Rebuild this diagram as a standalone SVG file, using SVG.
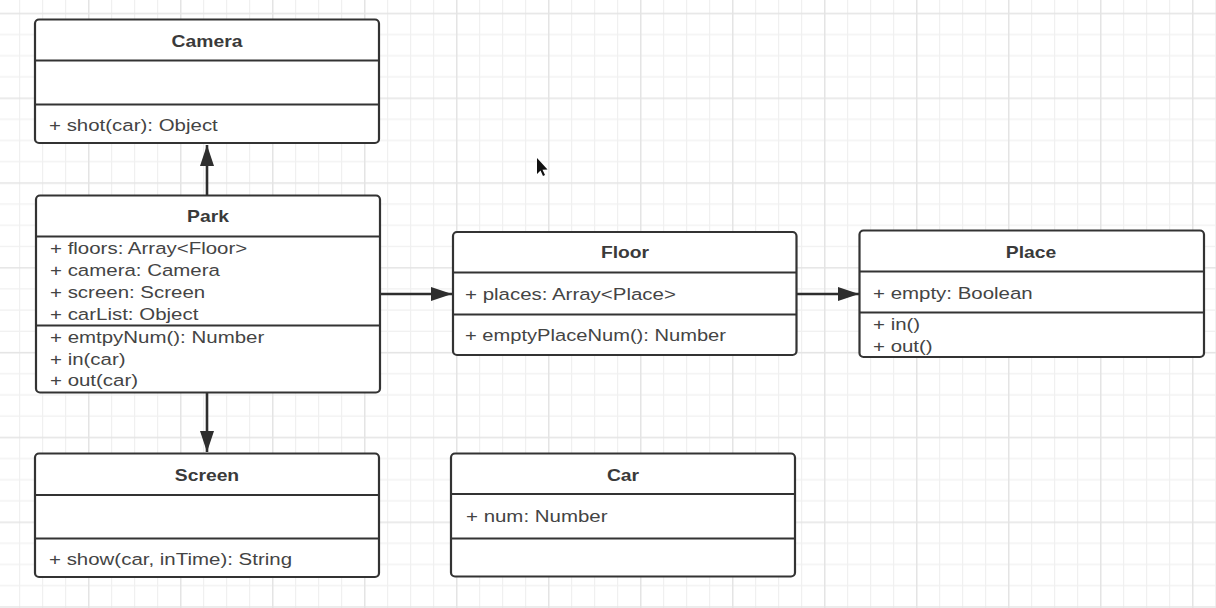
<svg xmlns="http://www.w3.org/2000/svg" width="1216" height="608" viewBox="0 0 1216 608">
  <defs>
    <pattern id="grid" patternUnits="userSpaceOnUse" x="-4" y="12.7" width="92" height="84.8">
      <rect x="0" y="0" width="92" height="84.8" fill="#ffffff"/>
      <g fill="#f0f0f0">
        <rect x="23" y="0" width="1.2" height="84.8"/>
        <rect x="46" y="0" width="1.2" height="84.8"/>
        <rect x="69" y="0" width="1.2" height="84.8"/>
        <rect x="0" y="21.2" width="92" height="1.2"/>
        <rect x="0" y="42.4" width="92" height="1.2"/>
        <rect x="0" y="63.6" width="92" height="1.2"/>
      </g>
      <g fill="#e4e4e4">
        <rect x="0" y="0" width="1.5" height="84.8"/>
        <rect x="0" y="0" width="92" height="1.5"/>
      </g>
    </pattern>
    <marker id="arrow" markerUnits="userSpaceOnUse" markerWidth="22" markerHeight="16" refX="21" refY="7.5" orient="auto">
      <path d="M0,0.5 L21,7.5 L0,14.5 Z" fill="#2e2e2e"/>
    </marker>
    <style>
      .box { fill:#ffffff; stroke:#333333; stroke-width:2.2; }
      .sep { stroke:#333333; stroke-width:2.2; fill:none; }
      .edge { stroke:#2e2e2e; stroke-width:2.6; fill:none; }
      .t { font-family:"Liberation Sans", Arial, sans-serif; font-size:16.5px; font-weight:bold; fill:#3a3a3a; text-anchor:middle; }
      .m { font-family:"Liberation Sans", Arial, sans-serif; font-size:16.5px; fill:#444444; }
    </style>
  </defs>

  <rect x="0" y="0" width="1216" height="608" fill="url(#grid)"/>

  <g id="connectors">
    <line class="edge" x1="207" y1="195" x2="207" y2="145" marker-end="url(#arrow)"/>
    <line class="edge" x1="207" y1="393" x2="207" y2="452" marker-end="url(#arrow)"/>
    <line class="edge" x1="380" y1="294" x2="452" y2="294" marker-end="url(#arrow)"/>
    <line class="edge" x1="797" y1="294" x2="859" y2="294" marker-end="url(#arrow)"/>
  </g>

  <g id="camera">
    <rect class="box" x="35" y="19.5" width="344" height="123.5" rx="4"/>
    <line class="sep" x1="35" y1="60.5" x2="379" y2="60.5"/>
    <line class="sep" x1="35" y1="104.5" x2="379" y2="104.5"/>
    <text class="t" transform="translate(207 47) scale(1.17 1)">Camera</text>
    <text class="m" transform="translate(49 131) scale(1.24 1)">+ shot(car): Object</text>
  </g>

  <g id="park">
    <rect class="box" x="36" y="195.5" width="344" height="197" rx="4"/>
    <line class="sep" x1="36" y1="236.5" x2="380" y2="236.5"/>
    <line class="sep" x1="36" y1="325.5" x2="380" y2="325.5"/>
    <text class="t" transform="translate(208 222) scale(1.17 1)">Park</text>
    <text class="m" transform="translate(50 254) scale(1.24 1)">+ floors: Array&lt;Floor&gt;</text>
    <text class="m" transform="translate(50 276) scale(1.24 1)">+ camera: Camera</text>
    <text class="m" transform="translate(50 298) scale(1.24 1)">+ screen: Screen</text>
    <text class="m" transform="translate(50 319.5) scale(1.24 1)">+ carList: Object</text>
    <text class="m" transform="translate(50 343) scale(1.24 1)">+ emtpyNum(): Number</text>
    <text class="m" transform="translate(50 364.5) scale(1.24 1)">+ in(car)</text>
    <text class="m" transform="translate(50 386) scale(1.24 1)">+ out(car)</text>
  </g>

  <g id="screen">
    <rect class="box" x="35" y="453.5" width="344" height="123.5" rx="4"/>
    <line class="sep" x1="35" y1="495" x2="379" y2="495"/>
    <line class="sep" x1="35" y1="538.5" x2="379" y2="538.5"/>
    <text class="t" transform="translate(207 481) scale(1.17 1)">Screen</text>
    <text class="m" transform="translate(49 565) scale(1.24 1)">+ show(car, inTime): String</text>
  </g>

  <g id="floor">
    <rect class="box" x="453" y="232" width="343.5" height="123" rx="4"/>
    <line class="sep" x1="453" y1="272.5" x2="796.5" y2="272.5"/>
    <line class="sep" x1="453" y1="314.5" x2="796.5" y2="314.5"/>
    <text class="t" transform="translate(625 258) scale(1.17 1)">Floor</text>
    <text class="m" transform="translate(465 300) scale(1.24 1)">+ places: Array&lt;Place&gt;</text>
    <text class="m" transform="translate(465 340.5) scale(1.22 1)">+ emptyPlaceNum(): Number</text>
  </g>

  <g id="place">
    <rect class="box" x="859.5" y="230.5" width="344.5" height="126.5" rx="4"/>
    <line class="sep" x1="859.5" y1="271.5" x2="1204" y2="271.5"/>
    <line class="sep" x1="859.5" y1="312.5" x2="1204" y2="312.5"/>
    <text class="t" transform="translate(1031 257.5) scale(1.17 1)">Place</text>
    <text class="m" transform="translate(873 298.5) scale(1.24 1)">+ empty: Boolean</text>
    <text class="m" transform="translate(873 329.5) scale(1.24 1)">+ in()</text>
    <text class="m" transform="translate(873 351.5) scale(1.24 1)">+ out()</text>
  </g>

  <g id="car">
    <rect class="box" x="451" y="453.5" width="344" height="123" rx="4"/>
    <line class="sep" x1="451" y1="494" x2="795" y2="494"/>
    <line class="sep" x1="451" y1="538.5" x2="795" y2="538.5"/>
    <text class="t" transform="translate(623 481) scale(1.17 1)">Car</text>
    <text class="m" transform="translate(466 522) scale(1.24 1)">+ num: Number</text>
  </g>

  <path d="M537,158 L537,174 L540.5,170.5 L543,176 L545,175 L542.5,169.8 L547.5,169.5 Z" fill="#111111"/>
</svg>
